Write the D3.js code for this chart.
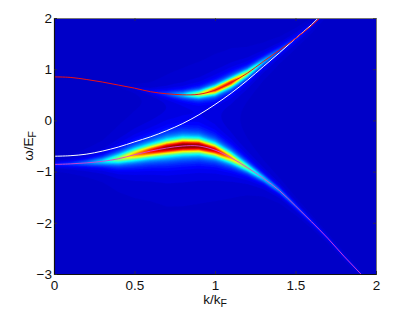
<!DOCTYPE html>
<html>
<head>
<meta charset="utf-8">
<script src="https://cdn.jsdelivr.net/npm/d3@7"></script>
<style>
  html, body { margin: 0; padding: 0; background: #fff; }
  svg { display: block; }
  text { font-family: "Liberation Sans", sans-serif; font-size: 13.5px; fill: #111; }
</style>
</head>
<body>
<svg id="chart" width="415" height="315"></svg>
<script>
// values, one entry per kSamples
const kSamples   = [0, 0.1, 0.2, 0.3, 0.4, 0.5, 0.6, 0.7, 0.8, 0.9, 1.0, 1.1, 1.2, 1.3, 1.4, 1.5, 1.6, 1.7, 1.8, 1.9, 2.0];
const upperOmega = [0.85, 0.84, 0.80, 0.75, 0.69, 0.63, 0.56, 0.52, 0.50, 0.51, 0.59, 0.74, 0.92, 1.15, 1.37, 1.60, 1.85, 2.15, 2.5, 2.8, 3.1];
const upperPeak  = [0.0, 0.0, 0.0, 0.01, 0.015, 0.03, 0.06, 0.13, 0.28, 0.55, 0.80, 0.85, 0.55, 0.30, 0.16, 0.10, 0.06, 0.03, 0.02, 0.01, 0.0];
const upperWidth = [0.05, 0.05, 0.05, 0.05, 0.05, 0.05, 0.06, 0.07, 0.07, 0.07, 0.075, 0.075, 0.075, 0.075, 0.075, 0.075, 0.075, 0.075, 0.075, 0.075, 0.075];
const lowerOmega = [-0.86, -0.85, -0.83, -0.80, -0.75, -0.67, -0.60, -0.54, -0.50, -0.50, -0.58, -0.73, -0.92, -1.13, -1.37, -1.67, -1.98, -2.30, -2.65, -2.98, -3.30];
const lowerPeak  = [0.10, 0.13, 0.20, 0.32, 0.52, 0.72, 0.88, 1.00, 1.05, 1.02, 0.92, 0.70, 0.48, 0.32, 0.22, 0.16, 0.12, 0.09, 0.07, 0.05, 0.04];
const lowerWidth = [0.05, 0.06, 0.07, 0.08, 0.10, 0.11, 0.115, 0.125, 0.125, 0.12, 0.11, 0.10, 0.085, 0.07, 0.06, 0.05, 0.045, 0.04, 0.04, 0.04, 0.04];
const whiteOmega = [-0.70, -0.69, -0.66, -0.60, -0.52, -0.42, -0.32, -0.20, -0.06, 0.11, 0.31, 0.53, 0.78, 1.05, 1.32, 1.60, 1.87, 2.2, 2.6, 2.9, 3.2];

const xTicks = [0, 0.5, 1, 1.5, 2];
const yTicks = [2, 1, 0, -1, -2, -3];
const colorStops  = [0, 0.07, 0.36, 0.62, 0.87, 1.0];
const colorValues = ['#0000c8', '#0000ff', '#00ffff', '#ffff00', '#ff0000', '#900000'];

const plotL = 54, plotR = 376, plotT = 18, plotB = 274;
const x = d3.scaleLinear().domain([0, 2]).range([plotL, plotR]);
const y = d3.scaleLinear().domain([2, -3]).range([plotT, plotB]);
const color = d3.scaleLinear().domain(colorStops).range(colorValues).clamp(true);

const svg = d3.select('#chart');
svg.append('defs').append('clipPath').attr('id', 'plotClip')
  .append('rect').attr('x', plotL).attr('y', plotT).attr('width', plotR - plotL).attr('height', plotB - plotT);

const along = vals => d3.scaleLinear().domain(kSamples).range(vals);
const branches = [
  { c: along(upperOmega), p: along(upperPeak), w: along(upperWidth) },
  { c: along(lowerOmega), p: along(lowerPeak), w: along(lowerWidth) },
];

// spectral weight on a one pixel grid: each branch is a lorentzian around its ridge
const nx = plotR - plotL, ny = plotB - plotT;
const grid = new Float64Array(nx * ny);
for (let j = 0; j < ny; j++) {
  const om = y.invert(plotT + j + 0.5);
  for (let i = 0; i < nx; i++) {
    const k = x.invert(plotL + i + 0.5);
    let v = 0;
    for (const b of branches) {
      const d = om - b.c(k), w = b.w(k);
      v += b.p(k) * w * w / (d * d + w * w);
    }
    grid[i + j * nx] = v;
  }
}

const heat = svg.append('g').attr('clip-path', 'url(#plotClip)');
heat.append('rect').attr('x', plotL).attr('y', plotT).attr('width', nx).attr('height', ny).attr('fill', color(0));

const levels = d3.range(0.012, 1.1, 0.02);
const contours = d3.contours().size([nx, ny]).thresholds(levels)(grid);
const toPlot = d3.geoTransform({ point(px, py) { this.stream.point(plotL + px, plotT + py); } });
heat.selectAll('path.band').data(contours).join('path')
  .attr('class', 'band')
  .attr('d', d3.geoPath(toPlot))
  .attr('fill', d => color(d.value))
  .attr('stroke', d => color(d.value))
  .attr('stroke-width', 0.3);

const line = vals => d3.line()
  .x((d, i) => x(kSamples[i]))
  .y(d => y(d))
  .curve(d3.curveCatmullRom)(vals);

heat.append('path').attr('d', line(whiteOmega)).attr('fill', 'none').attr('stroke', '#fff').attr('stroke-width', 1);
heat.append('path').attr('d', line(upperOmega)).attr('fill', 'none').attr('stroke', '#f01010').attr('stroke-width', 1);
heat.append('path').attr('d', line(lowerOmega)).attr('fill', 'none').attr('stroke', '#e040d0').attr('stroke-width', 0.9);

// axes, matlab style: ticks point inward on all four sides
const axisB = d3.axisBottom(x).tickValues(xTicks).tickFormat(d3.format('')).tickSize(-3).tickPadding(6);
const axisT = d3.axisTop(x).tickValues(xTicks).tickFormat('').tickSize(-3);
const axisL = d3.axisLeft(y).tickValues(yTicks).tickFormat(d => d < 0 ? '\u2212' + (-d) : d).tickSize(-3).tickPadding(2);
const axisR = d3.axisRight(y).tickValues(yTicks).tickFormat('').tickSize(-3);

function addAxis(gen, tx, ty, col, w) {
  const g = svg.append('g').attr('transform', `translate(${tx},${ty})`).call(gen);
  g.selectAll('text').attr('fill', null);
  g.attr('font-size', null).attr('font-family', null);
  g.select('.domain').attr('stroke', col).attr('stroke-width', w);
  g.selectAll('.tick line').attr('stroke', '#333').attr('stroke-width', 0.7);
  return g;
}
addAxis(axisT, 0, plotT, '#777', 1);
addAxis(axisR, plotR, 0, '#777', 1);
addAxis(axisB, 0, plotB, '#111', 1);
addAxis(axisL, plotL, 0, '#111', 1.2);

const xLabel = svg.append('text').attr('x', 215).attr('y', 304).attr('text-anchor', 'middle');
xLabel.append('tspan').text('k/k');
xLabel.append('tspan').attr('dy', 3).style('font-size', '10.5px').text('F');

const yLabel = svg.append('text').attr('transform', 'translate(33,146) rotate(-90)').attr('text-anchor', 'middle');
yLabel.append('tspan').text('\u03c9/E');
yLabel.append('tspan').attr('dy', 3).style('font-size', '10.5px').text('F');
</script>
</body>
</html>
